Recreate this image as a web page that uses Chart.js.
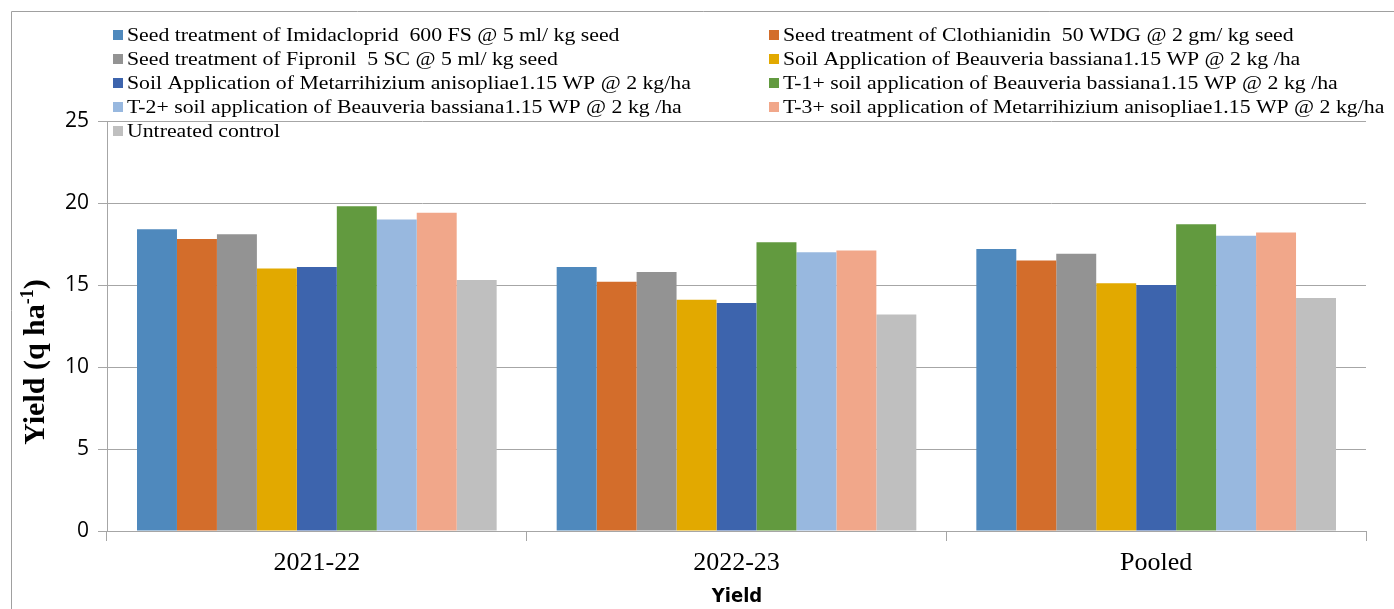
<!DOCTYPE html>
<html>
<head>
<meta charset="utf-8">
<script src="https://cdn.jsdelivr.net/npm/chart.js@4.4.1/dist/chart.umd.min.js"></script>
<style>
  html, body { margin: 0; padding: 0; background: #fff; }
  #wrap { width: 1394px; height: 609px; position: relative; }
</style>
</head>
<body>
<div id="wrap"><canvas id="yieldChart"></canvas></div>
<script>
// data
const categories = ['2021-22', '2022-23', 'Pooled'];
const treatments = [
    'Seed treatment of Imidacloprid  600 FS @ 5 ml/ kg seed',
    'Seed treatment of Clothianidin  50 WDG @ 2 gm/ kg seed',
    'Seed treatment of Fipronil  5 SC @ 5 ml/ kg seed',
    'Soil Application of Beauveria bassiana1.15 WP @ 2 kg /ha',
    'Soil Application of Metarrihizium anisopliae1.15 WP @ 2 kg/ha',
    'T-1+ soil application of Beauveria bassiana1.15 WP @ 2 kg /ha',
    'T-2+ soil application of Beauveria bassiana1.15 WP @ 2 kg /ha',
    'T-3+ soil application of Metarrihizium anisopliae1.15 WP @ 2 kg/ha',
    'Untreated control'
];
const yields = [
    [18.4, 16.1, 17.2],
    [17.8, 15.2, 16.5],
    [18.1, 15.8, 16.9],
    [16.0, 14.1, 15.1],
    [16.1, 13.9, 15.0],
    [19.8, 17.6, 18.7],
    [19.0, 17.0, 18.0],
    [19.4, 17.1, 18.2],
    [15.3, 13.2, 14.2]
];
const colors = ['#4f89bd', '#d36d2b', '#939393', '#e2a900', '#3d64ad', '#629a3f', '#98b8df', '#f1a78a', '#bfbfbf'];
const yTicks = [0, 5, 10, 15, 20, 25];

const gridGray = '#a6a6a6';
const serif = '"Liberation Serif", serif';

// frame, legend and axis titles drawn by hand
const decor = {
    id: 'decor',
    beforeDraw(chart) {
        const ctx = chart.ctx;
        ctx.save();
        ctx.strokeStyle = '#a0a0a0';
        ctx.lineWidth = 1;
        ctx.beginPath();
        ctx.moveTo(11.5, 700);
        ctx.lineTo(11.5, 11.5);
        ctx.lineTo(1400, 11.5);
        ctx.stroke();
        ctx.restore();
    },
    afterDraw(chart) {
        const ctx = chart.ctx;
        ctx.save();
        // legend, two columns, text a bit wide like the original
        const cols = [{ box: 113, text: 127 }, { box: 769, text: 783 }];
        const rowY = [35, 59, 83, 107, 131];
        ctx.font = '18px ' + serif;
        ctx.textBaseline = 'middle';
        ctx.textAlign = 'left';
        chart.data.datasets.forEach((ds, i) => {
            const c = cols[i % 2];
            const y = rowY[Math.floor(i / 2)];
            ctx.fillStyle = ds.backgroundColor;
            ctx.fillRect(c.box, y - 5, 10, 10);
            ctx.fillStyle = '#000';
            ctx.save();
            ctx.translate(c.text, y + 1);
            ctx.scale(1.21, 1);
            ctx.fillText(ds.label, 0, 0);
            ctx.restore();
        });

        // y title with superscript
        ctx.textBaseline = 'alphabetic';
        ctx.translate(44, 362);
        ctx.rotate(-Math.PI / 2);
        ctx.fillStyle = '#000';
        const main = 'Yield (q ha';
        const sup = '-1';
        const close = ')';
        ctx.font = 'bold 30px ' + serif;
        const w1 = ctx.measureText(main).width;
        const w3 = ctx.measureText(close).width;
        ctx.font = 'bold 18px ' + serif;
        const w2 = ctx.measureText(sup).width;
        const x = -(w1 + w2 + w3) / 2;
        ctx.font = 'bold 30px ' + serif;
        ctx.fillText(main, x, 0);
        ctx.font = 'bold 18px ' + serif;
        ctx.fillText(sup, x + w1, -11);
        ctx.font = 'bold 30px ' + serif;
        ctx.fillText(close, x + w1 + w2, 0);
        ctx.setTransform(1, 0, 0, 1, 0, 0);

        // x title
        ctx.font = 'bold 20px "Liberation Sans Narrow", "DejaVu Sans Condensed", sans-serif';
        ctx.textAlign = 'center';
        ctx.textBaseline = 'middle';
        ctx.fillText('Yield', 737, 597);
        ctx.restore();
    }
};

document.addEventListener('DOMContentLoaded', () => {
    const canvas = document.getElementById('yieldChart');
    canvas.width = 1394;
    canvas.height = 609;
    new Chart(canvas.getContext('2d'), {
        type: 'bar',
        data: {
            labels: categories,
            datasets: treatments.map((t, i) => ({
                label: t,
                data: yields[i],
                backgroundColor: colors[i],
                borderWidth: 0,
                categoryPercentage: 0.857,
                barPercentage: 1.0
            }))
        },
        options: {
            responsive: false,
            animation: false,
            layout: { padding: { left: 0, top: 121, right: 28, bottom: 0 } },
            plugins: { legend: { display: false }, tooltip: { enabled: false } },
            scales: {
                x: {
                    grid: { offset: true, drawOnChartArea: false, drawTicks: true, tickLength: 10, color: gridGray },
                    border: { color: gridGray },
                    ticks: { color: '#000', padding: 7, font: { family: serif, size: 26 } },
                    afterFit: s => { s.height = 78; }
                },
                y: {
                    min: 0, max: 25,
                    afterBuildTicks: s => { s.ticks = yTicks.map(v => ({ value: v })); },
                    grid: { color: gridGray, tickLength: 9 },
                    border: { color: gridGray },
                    ticks: { color: '#000', padding: 9, font: { family: '"Open Sans", "Liberation Sans", sans-serif', size: 21 } },
                    afterFit: s => { s.width = 107; }
                }
            }
        },
        plugins: [decor]
    });
});
</script>
</body>
</html>
